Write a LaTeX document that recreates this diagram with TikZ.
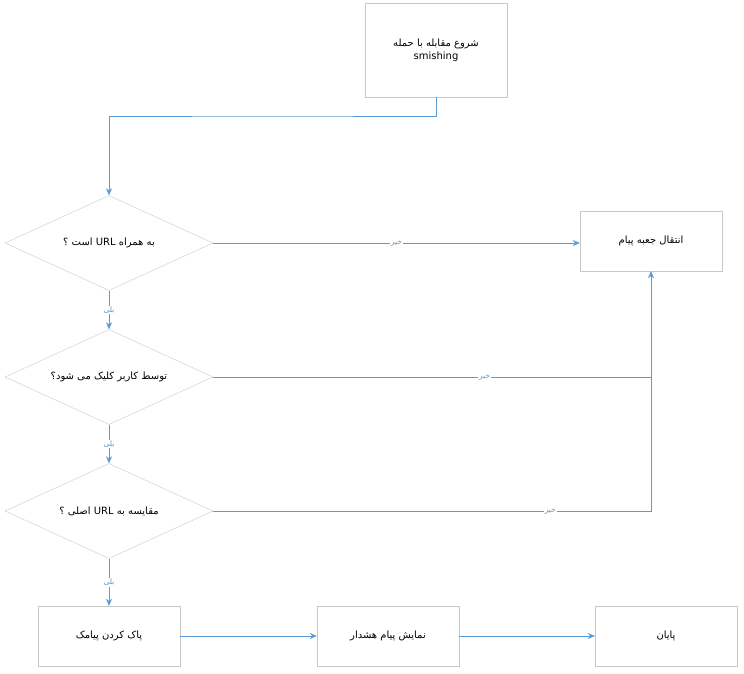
\documentclass[tikz,border=0pt]{standalone}
\usepackage{fontspec}
\newfontfamily\arabicfont[Script=Arabic]{DejaVu Sans}
\usetikzlibrary{shapes.geometric,positioning,arrows.meta}
\TeXXeTstate=1
\newcommand{\fa}[1]{\beginR #1\endR}
\definecolor{lineblue}{HTML}{5B9BD5}
\definecolor{boxgray}{HTML}{C8C8C8}
\begin{document}
\begin{tikzpicture}[x=1pt,y=-1pt,>={Stealth[length=7pt,width=6pt]}, font=\arabicfont\fontsize{10}{13}\selectfont,
  box/.style={draw=boxgray,fill=white,minimum width=142pt,minimum height=60pt,align=center},
  dec/.style={draw=boxgray,diamond,aspect=2.2,minimum width=208pt,minimum height=95pt,inner sep=0pt},
  flow/.style={draw=lineblue,->},
  lbl/.style={text=lineblue,font=\arabicfont\fontsize{7.5}{9}\selectfont,fill=white,inner sep=1pt}]
\useasboundingbox (0,0) rectangle (744,674);
% nodes
\node[box,minimum height=94pt] (start) at (436,50) {\fa{شروع مقابله با حمله}\\smishing};
\node[dec] (q1) at (109,243) {\fa{به همراه URL  است ؟}};
\node[dec] (q2) at (109,377) {\fa{توسط کاربر کلیک می شود؟}};
\node[dec] (q3) at (109,511) {\fa{مقایسه به URL  اصلی ؟}};
\node[box] (inbox) at (651,241) {\fa{انتقال جعبه پیام}};
\node[box] (del) at (109,636) {\fa{پاک کردن پیامک}};
\node[box] (warn) at (388,636) {\fa{نمایش پیام هشدار}};
\node[box] (stop) at (666,636) {\fa{پایان}};
\coordinate (j2) at (651,377);
% connectors
\draw[flow] (start.south) |- (272,116) -| (q1.north);
\draw[flow] (q1.east) -- node[lbl,pos=0.5]{\fa{خیر}} (inbox.west |- q1.east);
\draw[flow] (q1) -- node[lbl]{\fa{بلی}} (q2);
\draw[flow] (q2) -- node[lbl]{\fa{بلی}} (q3);
\draw[flow] (q3) -- node[lbl]{\fa{بلی}} (del);
\draw[draw=lineblue] (q2.east) -- node[lbl,pos=0.62]{\fa{خیر}} (j2);
\draw[flow] (q3.east) -- node[lbl,pos=0.77]{\fa{خیر}} (q3.east -| j2) -- (inbox.south);
\draw[flow] (del) -- (warn);
\draw[flow] (warn) -- (stop);
\end{tikzpicture}
\end{document}
